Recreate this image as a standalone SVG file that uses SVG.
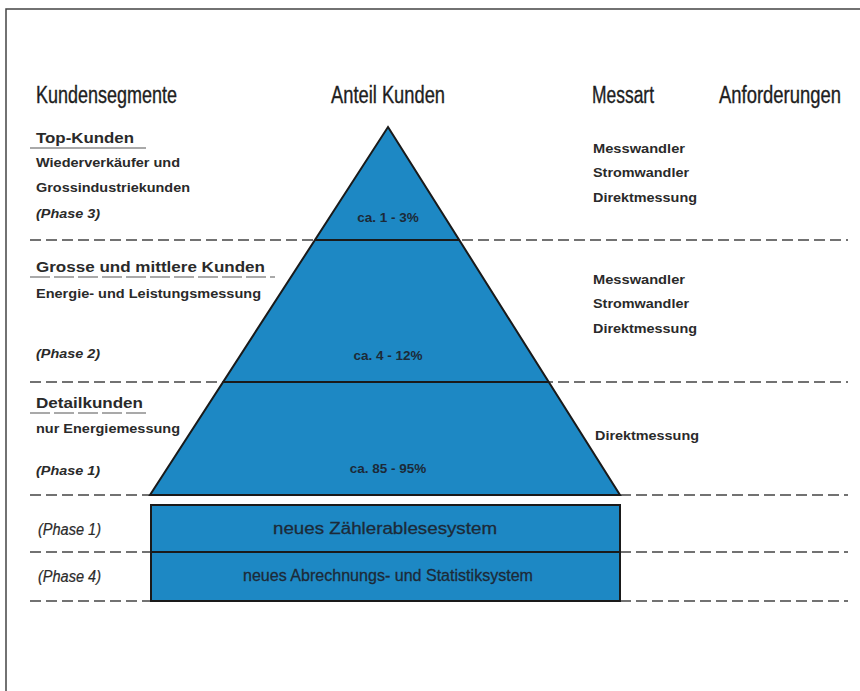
<svg xmlns="http://www.w3.org/2000/svg" width="860" height="691" viewBox="0 0 860 691">
<style>
.hd{font-family:"Liberation Sans",Arial,sans-serif;font-size:23px;fill:#1e1e1e;stroke:#1e1e1e;stroke-width:0.35}
.ttl{font-family:"Liberation Sans",Arial,sans-serif;font-size:15.5px;font-weight:bold;fill:#2a2a2a}
.sub{font-family:"Liberation Sans",Arial,sans-serif;font-size:12.5px;font-weight:bold;fill:#2a2a2a}
.ph{font-family:"Liberation Sans",Arial,sans-serif;font-size:12.5px;font-weight:bold;font-style:italic;fill:#2a2a2a}
.ph2{font-family:"Liberation Sans",Arial,sans-serif;font-size:16px;font-style:italic;fill:#2a2a2a;stroke:#2a2a2a;stroke-width:0.2}
.ms{font-family:"Liberation Sans",Arial,sans-serif;font-size:13px;font-weight:bold;fill:#2a2a2a}
.in{font-family:"Liberation Sans",Arial,sans-serif;font-size:13.5px;font-weight:bold;fill:#1c2a38;text-anchor:middle}
.bx{font-family:"Liberation Sans",Arial,sans-serif;font-size:17px;fill:#1c2a38;stroke:#1c2a38;stroke-width:0.3;text-anchor:middle}
.dash{stroke:#444;stroke-width:1.3;stroke-dasharray:11 5;fill:none}
.ul{stroke:#555;stroke-width:1.2;fill:none}
.shape{fill:#1d88c4;stroke:#1a1a1a;stroke-width:2}
</style>
<rect width="860" height="691" fill="#ffffff"/>
<g id="frame" fill="none" stroke="#444" stroke-width="1.5">
<path d="M6 691 V9 H860"/>
</g>
<g id="headers">
<text class="hd" x="36" y="103" textLength="141" lengthAdjust="spacingAndGlyphs">Kundensegmente</text>
<text class="hd" x="331" y="103" textLength="114" lengthAdjust="spacingAndGlyphs">Anteil Kunden</text>
<text class="hd" x="592" y="103" textLength="62" lengthAdjust="spacingAndGlyphs">Messart</text>
<text class="hd" x="719" y="103" textLength="122" lengthAdjust="spacingAndGlyphs">Anforderungen</text>
</g>
<g id="connectors">
<path class="dash" d="M30 240 H848"/>
<path class="dash" d="M30 382 H848"/>
<path class="dash" d="M30 495 H150 M620 495 H848"/>
<path class="dash" d="M30 552 H150 M620 552 H848"/>
<path class="dash" d="M30 601 H150 M620 601 H848"/>
</g>
<g id="pyramid">
<path class="shape" d="M388 127 L620 495 L150 495 Z"/>
<path d="M315 240 H460 M223 382 H549" stroke="#1a1a1a" stroke-width="1.8"/>
<text class="in" x="388" y="222">ca. 1 - 3%</text>
<text class="in" x="388" y="360">ca. 4 - 12%</text>
<text class="in" x="388" y="473">ca. 85 - 95%</text>
</g>
<g id="systems">
<rect class="shape" x="151" y="505" width="469" height="96"/>
<path d="M151 552 H620" stroke="#1a1a1a" stroke-width="1.8"/>
<text class="bx" x="385" y="534" textLength="224" lengthAdjust="spacingAndGlyphs">neues Zählerablesesystem</text>
<text class="bx" x="388" y="581" textLength="290" lengthAdjust="spacingAndGlyphs">neues Abrechnungs- und Statistiksystem</text>
</g>
<g id="seg-top">
<text class="ttl" x="36" y="143" textLength="98" lengthAdjust="spacingAndGlyphs">Top-Kunden</text>
<path class="ul" d="M30 148 H146"/>
<text class="sub" x="36" y="167" textLength="144" lengthAdjust="spacingAndGlyphs">Wiederverkäufer und</text>
<text class="sub" x="36" y="192" textLength="154" lengthAdjust="spacingAndGlyphs">Grossindustriekunden</text>
<text class="ph" x="36" y="218" textLength="64" lengthAdjust="spacingAndGlyphs">(Phase 3)</text>
</g>
<g id="seg-mid">
<text class="ttl" x="36" y="272" textLength="229" lengthAdjust="spacingAndGlyphs">Grosse und mittlere Kunden</text>
<path class="ul" d="M30 277 H275" stroke-dasharray="20 4"/>
<text class="sub" x="36" y="298" textLength="225" lengthAdjust="spacingAndGlyphs">Energie- und Leistungsmessung</text>
<text class="ph" x="36" y="358" textLength="64" lengthAdjust="spacingAndGlyphs">(Phase 2)</text>
</g>
<g id="seg-detail">
<text class="ttl" x="36" y="408" textLength="107" lengthAdjust="spacingAndGlyphs">Detailkunden</text>
<path class="ul" d="M30 413 H148" stroke-dasharray="20 4"/>
<text class="sub" x="36" y="433" textLength="144" lengthAdjust="spacingAndGlyphs">nur Energiemessung</text>
<text class="ph" x="36" y="475" textLength="64" lengthAdjust="spacingAndGlyphs">(Phase 1)</text>
</g>
<g id="seg-phases">
<text class="ph2" x="38" y="535" textLength="63" lengthAdjust="spacingAndGlyphs">(Phase 1)</text>
<text class="ph2" x="38" y="582" textLength="63" lengthAdjust="spacingAndGlyphs">(Phase 4)</text>
</g>
<g id="messart">
<text class="ms" x="593" y="153" textLength="92" lengthAdjust="spacingAndGlyphs">Messwandler</text>
<text class="ms" x="593" y="177" textLength="96" lengthAdjust="spacingAndGlyphs">Stromwandler</text>
<text class="ms" x="593" y="202" textLength="104" lengthAdjust="spacingAndGlyphs">Direktmessung</text>
<text class="ms" x="593" y="284" textLength="92" lengthAdjust="spacingAndGlyphs">Messwandler</text>
<text class="ms" x="593" y="308" textLength="96" lengthAdjust="spacingAndGlyphs">Stromwandler</text>
<text class="ms" x="593" y="333" textLength="104" lengthAdjust="spacingAndGlyphs">Direktmessung</text>
<text class="ms" x="595" y="440" textLength="104" lengthAdjust="spacingAndGlyphs">Direktmessung</text>
</g>
</svg>
